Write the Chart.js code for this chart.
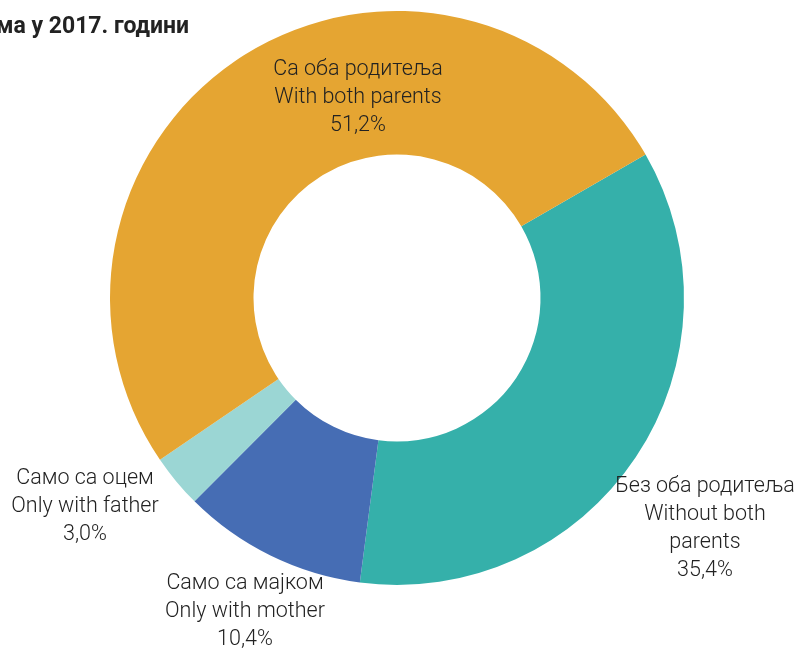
<!DOCTYPE html>
<html>
<head>
<meta charset="utf-8">
<script src="https://cdn.jsdelivr.net/npm/chart.js@4/dist/chart.umd.min.js"></script>
<style>
  html, body { margin: 0; padding: 0; background: #fff; }
  #wrap { position: relative; width: 798px; height: 653px; }
</style>
</head>
<body>
<div id="wrap"><canvas id="chart" width="798" height="653"></canvas></div>
<script>
// slices, clockwise from the upper-right edge
const categories = [
  ["Без оба родитеља", "Without both", "parents"],
  ["Само са мајком", "Only with mother"],
  ["Само са оцем", "Only with father"],
  ["Са оба родитеља", "With both parents"]
];
const shares = [35.4, 10.4, 3.0, 51.2];
const colors = ["#35B0AA", "#466DB4", "#9BD6D4", "#E5A532"];
const titleText = "ма у 2017. години";

// where each slice's label block sits (center x, first line y)
const labelSpots = [
  { x: 705, y: 487 },
  { x: 245, y: 584 },
  { x: 85, y: 479 },
  { x: 358, y: 70 }
];

const fmt = v => v.toFixed(1).replace(".", ",") + "%";

const sliceLabels = {
  id: "sliceLabels",
  afterDraw(chart) {
    const ctx = chart.ctx;
    ctx.save();
    ctx.font = "300 21.5px Roboto";
    ctx.fillStyle = "#222";
    ctx.textAlign = "center";
    ctx.textBaseline = "middle";
    categories.forEach((lines, i) => {
      const spot = labelSpots[i];
      const all = lines.concat([fmt(shares[i])]);
      all.forEach((t, k) => ctx.fillText(t, spot.x, spot.y + k * 28));
    });
    // title, cut at the left edge like the source
    ctx.font = "bold 23px Roboto";
    ctx.fillStyle = "#222";
    ctx.textAlign = "left";
    ctx.fillText(titleText, -4, 27);
    ctx.restore();
  }
};

new Chart(document.getElementById("chart"), {
  type: "doughnut",
  data: {
    labels: categories.map(c => c.join(" ")),
    datasets: [{
      data: shares,
      backgroundColor: colors,
      borderWidth: 0
    }]
  },
  options: {
    responsive: false,
    animation: false,
    rotation: 60,
    cutout: "50%",
    layout: { padding: { top: 11, bottom: 68, left: 0, right: 4 } },
    plugins: {
      legend: { display: false },
      tooltip: { enabled: false }
    }
  },
  plugins: [sliceLabels]
});
</script>
</body>
</html>
